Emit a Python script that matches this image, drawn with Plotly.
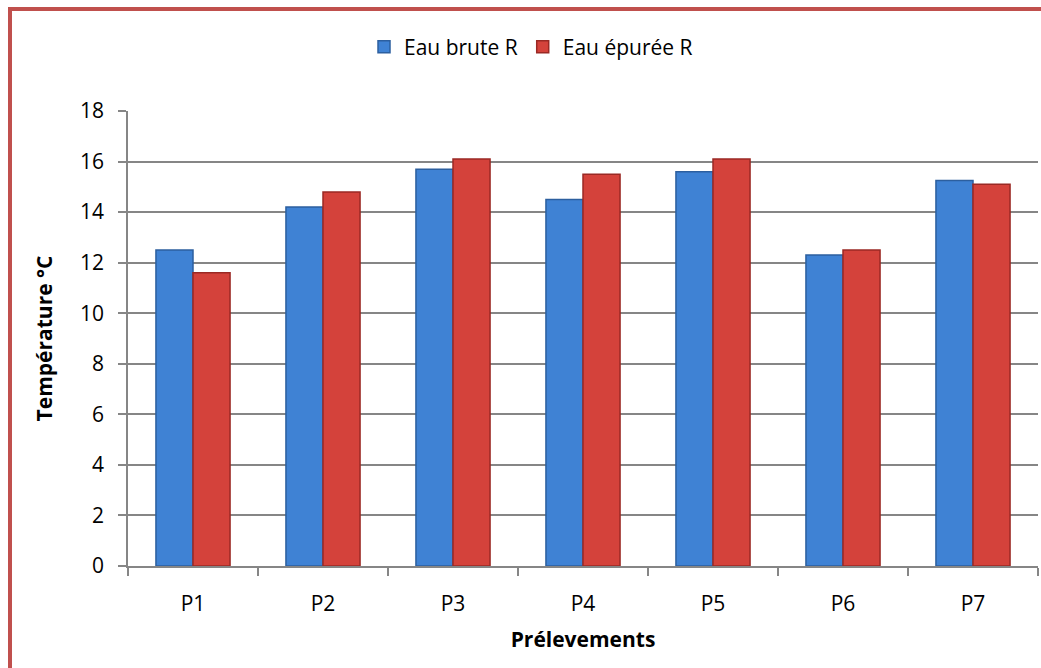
import plotly.graph_objects as go

# Sampling points and measured temperatures (°C)
categories = ["P1", "P2", "P3", "P4", "P5", "P6", "P7"]
eau_brute = [12.5, 14.2, 15.7, 14.5, 15.6, 12.3, 15.25]
eau_epuree = [11.6, 14.8, 16.1, 15.5, 16.1, 12.5, 15.1]
y_ticks = [0, 2, 4, 6, 8, 10, 12, 14, 16, 18]

W, H = 1041, 668
L, R, T, B = 128, 3, 111, 101.5
pw, ph = W - L - R, H - T - B


def px_x(x):
    return (x - L) / pw


def px_y(y):
    return (H - B - y) / ph


font_family = "'Open Sans', Lato, sans-serif"
grey = "#868686"

fig = go.Figure()
fig.add_trace(go.Bar(
    x=categories, y=eau_brute, name="Eau brute R",
    marker=dict(color="#3f82d4", line=dict(color="#2c5f9f", width=1.5)),
))
fig.add_trace(go.Bar(
    x=categories, y=eau_epuree, name="Eau épurée R",
    marker=dict(color="#d4423b", line=dict(color="#9a2924", width=1.5)),
))

fig.update_layout(
    width=W, height=H,
    margin=dict(l=L, r=R, t=T, b=B),
    paper_bgcolor="white", plot_bgcolor="white",
    barmode="group", bargap=0.43, bargroupgap=0,
    font=dict(family=font_family, size=21, color="black"),
    legend=dict(
        orientation="h", x=px_x(531), xanchor="center",
        y=px_y(47), yanchor="middle",
        font=dict(size=21), itemwidth=30, traceorder="normal",
    ),
    xaxis=dict(
        showline=True, linecolor=grey, linewidth=1.5,
        ticks="outside", tickson="boundaries", ticklen=8, tickcolor=grey,
        tickwidth=1.5, ticklabelstandoff=18,
        title=dict(text="<b>Prélevements</b>", standoff=16,
                   font=dict(size=21)),
        showgrid=False,
    ),
    yaxis=dict(
        range=[0, 18], tickvals=y_ticks,
        showline=True, linecolor=grey, linewidth=1.5,
        ticks="outside", ticklen=8, tickcolor=grey, tickwidth=1.5,
        ticklabelstandoff=10,
        showgrid=True, gridcolor=grey, gridwidth=1.5,
        zeroline=False,
        title=dict(text="<b>Température °C</b>", standoff=22,
                   font=dict(size=21)),
    ),
    shapes=[dict(
        type="rect", xref="paper", yref="paper",
        x0=px_x(10), x1=px_x(W + 10), y0=px_y(H + 4), y1=px_y(9),
        line=dict(color="#c0504d", width=4), fillcolor="rgba(0,0,0,0)",
        layer="below",
    )],
)

fig.write_html("out.html")
